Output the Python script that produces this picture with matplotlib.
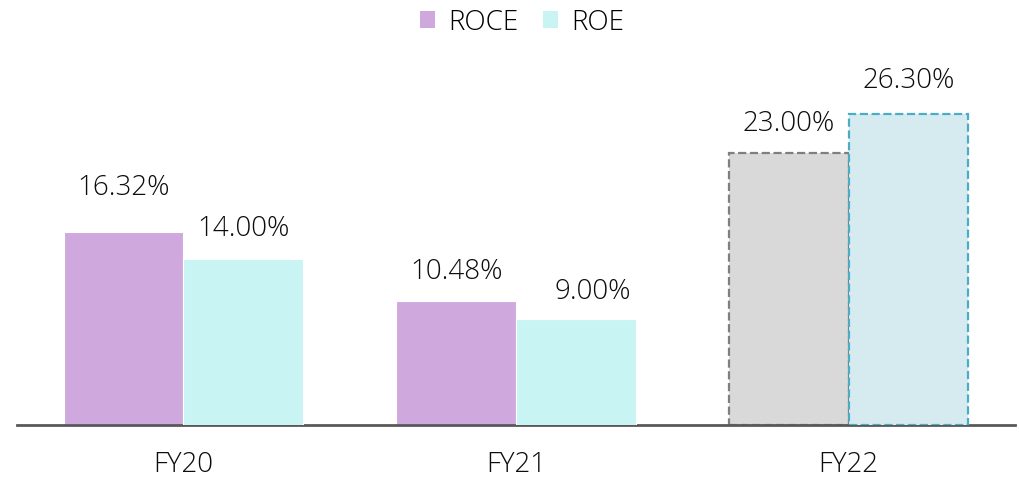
import matplotlib.pyplot as plt
import numpy as np
from matplotlib.patches import Patch

plt.rcParams['font.family'] = ['Open Sans', 'DejaVu Sans']

# Data
years = ['FY20', 'FY21', 'FY22']
roce = [16.32, 10.48, 23.00]
roe = [14.00, 9.00, 26.30]

# Styles
roce_fill = ['#CFA8DD', '#CFA8DD', '#D9D9D9']
roe_fill = ['#C9F4F4', '#C9F4F4', '#D6EBF0']
roce_edge = ['white', 'white', '#7F7F7F']
roe_edge = ['white', 'white', '#4BACC6']
dashed = [False, False, True]

# label offsets in points (dx, dy)
roce_off = [(0, 32), (0, 21.5), (0, 21.5)]
roe_off = [(0, 22.5), (12, 19.5), (0, 24)]

fig = plt.figure(figsize=(10.2, 4.81), dpi=100)
ax = fig.add_axes([17 / 1020, 55 / 481, 998 / 1020, 381 / 481])

x = np.arange(len(years))
w = 0.36
for i in range(len(years)):
    ls = '--' if dashed[i] else '-'
    lw = 1.6 if dashed[i] else 0.8
    ax.bar(x[i] - w / 2, roce[i], w, color=roce_fill[i], edgecolor=roce_edge[i],
           linestyle=ls, linewidth=lw, zorder=2)
    ax.bar(x[i] + w / 2, roe[i], w, color=roe_fill[i], edgecolor=roe_edge[i],
           linestyle=ls, linewidth=lw, zorder=3)
    ax.annotate(f'{roce[i]:.2f}%', (x[i] - w / 2, roce[i]), xytext=roce_off[i],
                textcoords='offset points', ha='center', va='center', fontsize=20,
                color='#0d0d0d', fontweight='light')
    ax.annotate(f'{roe[i]:.2f}%', (x[i] + w / 2, roe[i]), xytext=roe_off[i],
                textcoords='offset points', ha='center', va='center', fontsize=20,
                color='#0d0d0d', fontweight='light')

ax.set_xlim(-0.5, 2.5)
ax.set_ylim(0, 32.2)
ax.set_xticks(x)
ax.set_xticklabels(years, fontsize=20, color='#0d0d0d', fontweight='light')
ax.tick_params(axis='x', length=0, pad=18)
ax.set_yticks([])
for s in ['top', 'right', 'left']:
    ax.spines[s].set_visible(False)
ax.spines['bottom'].set_color('#595959')
ax.spines['bottom'].set_linewidth(2)

handles = [Patch(facecolor='#CFA8DD', edgecolor='none', label='ROCE'),
           Patch(facecolor='#C9F4F4', edgecolor='none', label='ROE')]
fig.legend(handles=handles, loc='center', bbox_to_anchor=(522 / 1020, 1 - 23 / 481), ncol=2,
           frameon=False, prop={'size': 20, 'weight': 'light'}, handlelength=0.55,
           handleheight=0.55, handletextpad=0.45, columnspacing=0.9)

plt.savefig('out.png', dpi=100)
